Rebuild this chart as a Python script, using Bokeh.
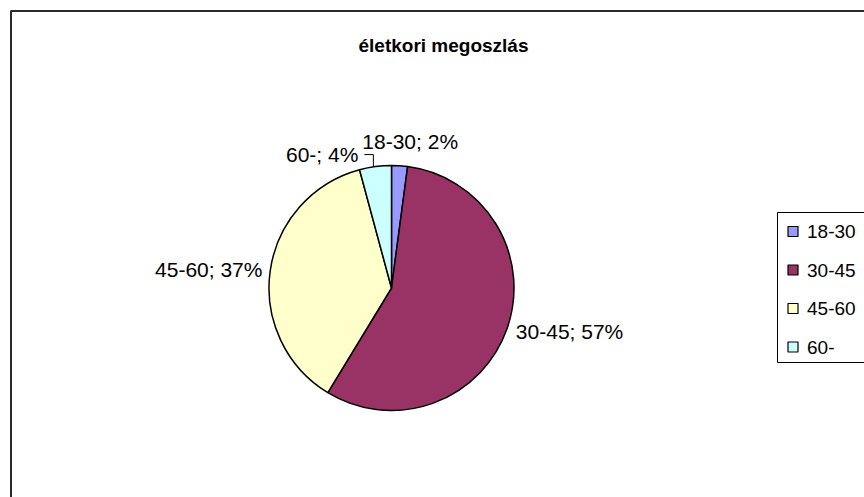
import math
from bokeh.plotting import figure
from bokeh.models import Range1d
from bokeh.core.properties import value
from bokeh.embed import file_html
from bokeh.resources import INLINE

# ---- data ----
title_text = "életkori megoszlás"
categories = ["18-30", "30-45", "45-60", "60-"]
shares = [2.1, 56.6, 37.1, 4.2]          # percent
colors = ["#9999FF", "#993366", "#FFFFCC", "#CCFFFF"]

W, H = 864, 497
p = figure(width=W, height=H, output_backend="svg", toolbar_location=None,
           x_range=Range1d(0, W), y_range=Range1d(0, H), min_border=0)
p.axis.visible = False
p.grid.visible = False
p.outline_line_color = None
p.background_fill_color = "white"
p.border_fill_color = "white"

FONT = value("Liberation Sans")

# chart frame (cut off at right and bottom)
p.line([10.5, 10.5, W + 20], [-20, 486.5, 486.5], line_color="#2a2a2a", line_width=2)

# title
p.text([443], [452], text=[title_text], text_font=FONT, text_font_size="19px",
       text_font_style="bold", text_align="center", text_baseline="alphabetic",
       text_color="black")

# pie
cx, cy, r = 391, 209.5, 122.5
total = sum(shares)
starts, ends, mids = [], [], []
cum = 0.0
for s in shares:
    a0 = cum / total * 2 * math.pi
    cum += s
    a1 = cum / total * 2 * math.pi
    starts.append(math.pi / 2 - a0)
    ends.append(math.pi / 2 - a1)
    mids.append((a0 + a1) / 2)

p.wedge(x=[cx] * len(shares), y=[cy] * len(shares), radius=r,
        start_angle=starts, end_angle=ends, direction="clock",
        fill_color=colors, line_color="black", line_width=1.5)

# data labels
for i, (cat, s) in enumerate(zip(categories, shares)):
    lab = f"{cat}; {round(s)}%"
    th = mids[i]
    sn, cs = math.sin(th), math.cos(th)
    if i == len(shares) - 1:
        # small slice with leader line
        px0, py0 = cx + r * sn, cy + r * cs
        ly = py0 + 12
        p.line([px0 - 2, px0 - 2, px0 - 11], [py0, ly, ly], line_color="black", line_width=1)
        p.text([px0 - 17], [ly], text=[lab], text_font=FONT, text_font_size="21px",
               text_align="right", text_baseline="middle", text_color="black")
        continue
    gap = 7.5 + 17 * cs * cs
    R = r + gap
    x = cx + R * sn
    y = cy + R * cs
    if sn > 0.2:
        align = "left"
    elif sn < -0.2:
        align = "right"
    else:
        align = "center"
        x += 9
    p.text([x], [y], text=[lab], text_font=FONT, text_font_size="21px",
           text_align=align, text_baseline="middle", text_color="black")

# legend
lg_left, lg_top, lg_bottom = 777, 285, 135
p.quad(left=[lg_left], right=[W + 20], top=[lg_top], bottom=[lg_bottom],
       fill_color="white", line_color="black", line_width=1)
step = 38.5
for i, (cat, c) in enumerate(zip(categories, colors)):
    ey = lg_top - 19 - i * step
    p.rect([792.5], [ey], width=10, height=10, fill_color=c,
           line_color="black", line_width=1.2)
    p.text([806.5], [ey], text=[cat], text_font=FONT, text_font_size="19px",
           text_align="left", text_baseline="middle", text_color="black")

open("out.html", "w").write(file_html(p, INLINE))
